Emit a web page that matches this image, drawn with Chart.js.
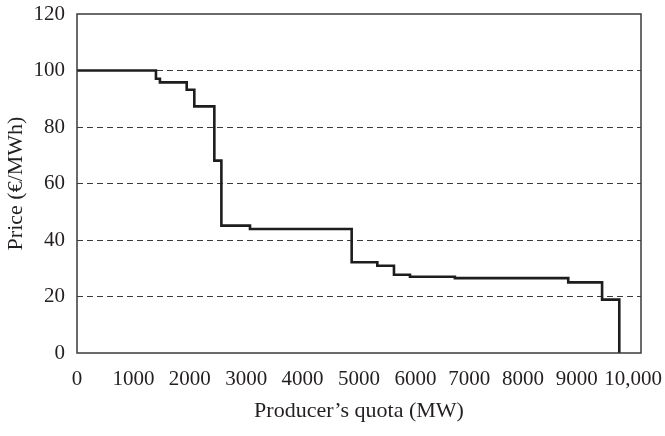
<!DOCTYPE html>
<html>
<head>
<meta charset="utf-8">
<script src="https://cdn.jsdelivr.net/npm/chart.js@4.4.1/dist/chart.umd.min.js"></script>
<style>
  html, body { margin: 0; padding: 0; background: #fff; }
  #wrap { width: 665px; height: 436px; }
</style>
</head>
<body>
<div id="wrap"><canvas id="chart_quota" width="665" height="436"></canvas></div>
<script>
// step curve: quota (MW) where each price level starts
var quotaMW = [0, 1400, 1470, 1945, 2080, 2435, 2560, 3067, 4870, 5325, 5620, 5904, 6700, 8710, 9310];
var priceEUR = [100, 97.1, 95.8, 93.2, 87.3, 68.1, 45.1, 43.9, 32.1, 30.9, 27.7, 27.0, 26.5, 25.0, 18.9];
var endQuota = 9615;
var endPrice = 0;
var xTicks = [0, 1000, 2000, 3000, 4000, 5000, 6000, 7000, 8000, 9000, 10000];
var xTickLabels = ["0", "1000", "2000", "3000", "4000", "5000", "6000", "7000", "8000", "9000", "10,000"];
var yTicks = [0, 20, 40, 60, 80, 100, 120];

var serif = "'Liberation Serif', 'DejaVu Serif', serif";

// the right hand labels sit a little left of their ticks in the original,
// trailing spaces push the centred text over
var labelPad = [0, 0, 0, 0, 0, 0, 0, 1, 2, 3, 3];

function buildPoints() {
  var pts = [];
  for (var i = 0; i < quotaMW.length; i++) {
    pts.push({ x: quotaMW[i], y: priceEUR[i] });
  }
  pts.push({ x: endQuota, y: endPrice });
  return pts;
}

// box around the plot area
var framePlugin = {
  id: 'frame',
  afterDraw: function (chart) {
    var a = chart.chartArea;
    var ctx = chart.ctx;
    ctx.save();
    ctx.strokeStyle = '#3a3a3a';
    ctx.lineWidth = 1.5;
    ctx.strokeRect(a.left, a.top, a.right - a.left, a.bottom - a.top);
    ctx.restore();
  }
};

function createQuotaChart() {
  new Chart(document.getElementById("chart_quota"), {
    type: 'line',
    data: {
      datasets: [{
        label: "Price",
        data: buildPoints(),
        stepped: 'before',
        borderColor: '#1f1c1d',
        borderWidth: 2.6,
        pointRadius: 0,
        fill: false
      }]
    },
    options: {
      responsive: false,
      animation: false,
      layout: { padding: { left: 0, right: 24, top: 0, bottom: 0 } },
      plugins: {
        legend: { display: false },
        tooltip: { enabled: false }
      },
      scales: {
        x: {
          type: 'linear',
          min: 0,
          max: 10000,
          afterBuildTicks: function (scale) {
            scale.ticks = xTicks.map(function (v) { return { value: v }; });
          },
          afterFit: function (scale) {
            // last label is allowed to run to the page edge
            scale.paddingRight = 0;
            scale.paddingLeft = 0;
            scale.height = 83;
          },
          ticks: {
            autoSkip: false,
            maxRotation: 0,
            padding: 14,
            color: '#231f20',
            font: { family: serif, size: 21 },
            callback: function (value) {
              var i = xTicks.indexOf(value);
              if (i < 0) return '';
              return xTickLabels[i] + ' '.repeat(labelPad[i]);
            }
          },
          grid: { display: false, drawTicks: false },
          border: { display: false },
          title: {
            display: true,
            text: "Producer\u2019s quota (MW)",
            color: '#231f20',
            font: { family: serif, size: 22 },
            padding: { top: 0, bottom: 12 }
          }
        },
        y: {
          min: 0,
          max: 120,
          afterBuildTicks: function (scale) {
            scale.ticks = yTicks.map(function (v) { return { value: v }; });
          },
          afterFit: function (scale) {
            scale.width = 77;
            scale.paddingTop = 14;
            scale.paddingBottom = 0;
          },
          ticks: {
            padding: 12,
            color: '#231f20',
            font: { family: serif, size: 21 }
          },
          grid: {
            drawTicks: false,
            lineWidth: 1,
            color: function (c) {
              if (c.tick && (c.tick.value === 0 || c.tick.value === 120)) return 'rgba(0,0,0,0)';
              return '#3c3c3c';
            }
          },
          border: { display: false, dash: [6, 4] },
          title: {
            display: true,
            text: "Price (\u20ac/MWh)",
            color: '#231f20',
            font: { family: serif, size: 22 },
            padding: { top: 3, bottom: 0 }
          }
        }
      }
    },
    plugins: [framePlugin]
  });
}

createQuotaChart();
</script>
</body>
</html>
